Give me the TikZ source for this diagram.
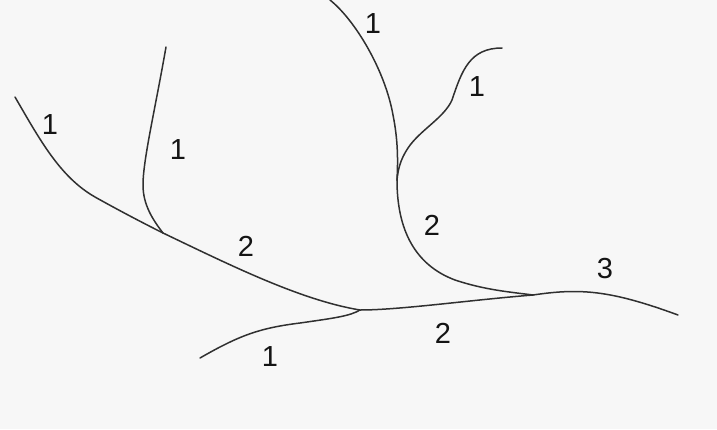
\documentclass[tikz,border=0pt]{standalone}
\usepackage{fontspec}
\setmainfont{Liberation Sans}
\usepackage{tikz}
\usetikzlibrary{positioning}
\usepackage{xcolor}
\definecolor{paper}{HTML}{F7F7F7}
\definecolor{river}{HTML}{303030}
\definecolor{ink}{HTML}{141414}

\begin{document}
\begin{tikzpicture}[
  x=1pt, y=-1pt,
  stream/.style={draw=river, line width=1.5pt, line cap=round},
  ordlab/.style={font=\fontsize{29}{32}\selectfont, text=ink, inner sep=0pt}
]
  \fill[paper] (0,0) rectangle (717,429);
  \useasboundingbox (0,0) rectangle (717,429);

  % sources and junctions
  \coordinate (srcA) at (15,97);
  \coordinate (srcB) at (166,47);
  \coordinate (srcC) at (200,358);
  \coordinate (srcD) at (330,0);
  \coordinate (srcE) at (502,48);
  \coordinate (jnA) at (163,233);
  \coordinate (jnB) at (360,310);
  \coordinate (jnC) at (397,180);
  \coordinate (jnD) at (533,295);
  \coordinate (mouth) at (678,315);

  % order 1 streams
  \draw[stream] (srcA) .. controls (40,140) and (60,177) .. (95,197)
    .. controls (120,211) and (145,224) .. (jnA);
  \draw[stream] (srcB) .. controls (155,110) and (143,160) .. (143,185)
    .. controls (143,205) and (153,220) .. (jnA);
  \draw[stream] (srcC) .. controls (240,335) and (260,328) .. (300,323)
    .. controls (335,318) and (350,316) .. (jnB);
  \draw[stream] (srcD) .. controls (355,20) and (385,70) .. (393,115)
    .. controls (398,140) and (398,160) .. (jnC);
  \draw[stream] (srcE) .. controls (470,48) and (462,70) .. (452,100)
    .. controls (444,118) and (420,130) .. (408,148)
    .. controls (400,160) and (398,170) .. (jnC);

  % order 2 streams
  \draw[stream] (jnA) .. controls (230,265) and (300,300) .. (jnB);
  \draw[stream] (jnB) .. controls (400,310) and (470,300) .. (jnD);
  \draw[stream] (jnC) .. controls (397,230) and (415,265) .. (455,280)
    .. controls (485,290) and (510,292) .. (jnD);

  % order 3 stream
  \draw[stream] (jnD) .. controls (580,288) and (610,290) .. (mouth);

  % stream orders
  \node[ordlab] (ordA) at (50,125) {1};
  \node[ordlab] (ordB) at (178,150) {1};
  \node[ordlab] (ordC) at (246,246) {2};
  \node[ordlab] (ordD) at (270,357) {1};
  \node[ordlab] (ordE) at (373,24) {1};
  \node[ordlab] (ordF) at (477,87) {1};
  \node[ordlab] (ordG) at (432,225) {2};
  \node[ordlab] (ordH) at (605,269) {3};
  \node[ordlab] (ordI) at (443,333) {2};
\end{tikzpicture}
\end{document}
